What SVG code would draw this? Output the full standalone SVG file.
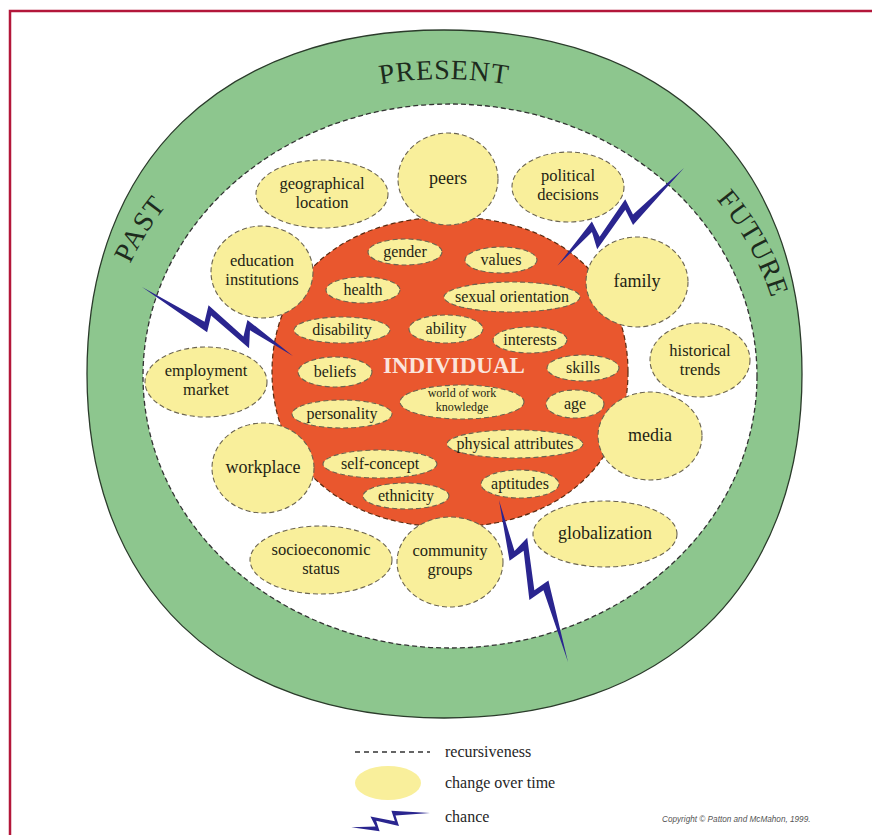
<svg xmlns="http://www.w3.org/2000/svg" xmlns:xlink="http://www.w3.org/1999/xlink" width="872" height="835" viewBox="0 0 872 835">
  <style>
    .frame { fill: none; stroke: #b3173a; stroke-width: 2.5; }
    .ring { fill: #8dc68e; stroke: #2b3b2b; stroke-width: 1.3; }
    .field { fill: #ffffff; stroke: #333333; stroke-width: 1.3; stroke-dasharray: 5 3; }
    .core { fill: #e9572e; stroke: #5a2a10; stroke-width: 1.2; stroke-dasharray: 5 3; }
    .inf { fill: #f9ef9b; stroke: #6b6450; stroke-width: 1.1; stroke-dasharray: 5 3; }
    .lbl { font-family: "Liberation Serif", "Times New Roman", serif; font-size: 18px; fill: #1f1f14; text-anchor: middle; }
    .two { font-size: 16.5px; }
    .sm { font-size: 16px; }
    .xs { font-size: 12px; }
    .era { font-family: "Liberation Serif", "Times New Roman", serif; font-size: 28px; fill: #1d2b1d; letter-spacing: 1px; text-anchor: middle; }
    .bolt { fill: #2a258f; }
    .legend { font-family: "Liberation Serif", "Times New Roman", serif; font-size: 16px; fill: #262626; }
    .copy { font-family: "Liberation Sans", Arial, sans-serif; font-size: 8.2px; font-style: italic; fill: #555555; }
  </style>
  <defs>
    <!-- lightning bolt drawn from thin tail (0,0) to point (100,0) -->
    <path id="bolt" d="M0,0 L47,10 L45,-2 L74,8 L70,-4 L100,0 L66,-10 L68,2 L41,-8 L43,4 Z"/>
    <!-- baseline arc for the time labels -->
    <path id="timeArc" d="M104,379 A340,300 0 0 1 784,379"/>
  </defs>

  <path class="frame" d="M10,835 V11 H872"/>

  <!-- time ring -->
  <g id="time-ring">
    <path class="ring" d="M802,374 C802,587 666,718 444,718 C222,718 87,587 87,374 C87,161 222,30 444,30 C666,30 802,161 802,374Z"/>
    <ellipse class="field" cx="450" cy="376" rx="307" ry="272"/>
    <text class="era"><textPath xlink:href="#timeArc" startOffset="15.3%">PAST</textPath></text>
    <text class="era"><textPath xlink:href="#timeArc" startOffset="50%">PRESENT</textPath></text>
    <text class="era"><textPath xlink:href="#timeArc" startOffset="86.2%">FUTURE</textPath></text>
  </g>

  <!-- individual system -->
  <g id="individual">
    <path class="core" d="M628,372 C628,465 556.8,527 450,527 C343.2,527 272,465 272,372 C272,279 343.2,217 450,217 C556.8,217 628,279 628,372Z"/>
    <text class="lbl" x="454" y="373" style="font-size:23px;font-weight:bold;fill:#fbe4dc">INDIVIDUAL</text>
  </g>

  <!-- contextual influences -->
  <g id="geographical-location"><ellipse class="inf" cx="322" cy="194" rx="66" ry="34"/><text class="lbl two" x="322" y="189">geographical<tspan x="322" dy="19">location</tspan></text></g>
  <g id="peers"><ellipse class="inf" cx="448" cy="179" rx="50" ry="46"/><text class="lbl" x="448" y="184">peers</text></g>
  <g id="political-decisions"><ellipse class="inf" cx="568" cy="187" rx="56" ry="35"/><text class="lbl two" x="568" y="181">political<tspan x="568" dy="19">decisions</tspan></text></g>
  <g id="education-institutions"><ellipse class="inf" cx="262" cy="272" rx="51" ry="46"/><text class="lbl two" x="262" y="266">education<tspan x="262" dy="19">institutions</tspan></text></g>
  <g id="family"><ellipse class="inf" cx="637" cy="282" rx="51" ry="45"/><text class="lbl" x="637" y="287">family</text></g>
  <g id="historical-trends"><ellipse class="inf" cx="700" cy="360" rx="50" ry="37"/><text class="lbl two" x="700" y="356">historical<tspan x="700" dy="19">trends</tspan></text></g>
  <g id="employment-market"><ellipse class="inf" cx="206" cy="382" rx="61" ry="35"/><text class="lbl two" x="206" y="376">employment<tspan x="206" dy="19">market</tspan></text></g>
  <g id="media"><ellipse class="inf" cx="650" cy="436" rx="52" ry="44"/><text class="lbl" x="650" y="441">media</text></g>
  <g id="workplace"><ellipse class="inf" cx="263" cy="468" rx="51" ry="45"/><text class="lbl" x="263" y="473">workplace</text></g>
  <g id="globalization"><ellipse class="inf" cx="605" cy="534" rx="72" ry="33"/><text class="lbl" x="605" y="539">globalization</text></g>
  <g id="socioeconomic-status"><ellipse class="inf" cx="321" cy="560" rx="71" ry="34"/><text class="lbl two" x="321" y="555">socioeconomic<tspan x="321" dy="19">status</tspan></text></g>
  <g id="community-groups"><ellipse class="inf" cx="450" cy="562" rx="53" ry="45"/><text class="lbl two" x="450" y="556">community<tspan x="450" dy="19">groups</tspan></text></g>

  <!-- intrapersonal influences -->
  <g id="gender"><ellipse class="inf" cx="405" cy="252" rx="37" ry="13"/><text class="lbl sm" x="405" y="257">gender</text></g>
  <g id="values"><ellipse class="inf" cx="501" cy="260" rx="36" ry="13"/><text class="lbl sm" x="501" y="265">values</text></g>
  <g id="health"><ellipse class="inf" cx="363" cy="290" rx="37" ry="13"/><text class="lbl sm" x="363" y="295">health</text></g>
  <g id="sexual-orientation"><ellipse class="inf" cx="512" cy="297" rx="68" ry="15"/><text class="lbl sm" x="512" y="302">sexual orientation</text></g>
  <g id="disability"><ellipse class="inf" cx="342" cy="330" rx="48" ry="13"/><text class="lbl sm" x="342" y="335">disability</text></g>
  <g id="ability"><ellipse class="inf" cx="446" cy="329" rx="37" ry="14"/><text class="lbl sm" x="446" y="334">ability</text></g>
  <g id="interests"><ellipse class="inf" cx="530" cy="340" rx="37" ry="13"/><text class="lbl sm" x="530" y="345">interests</text></g>
  <g id="beliefs"><ellipse class="inf" cx="335" cy="372" rx="37" ry="15"/><text class="lbl sm" x="335" y="377">beliefs</text></g>
  <g id="skills"><ellipse class="inf" cx="583" cy="368" rx="36" ry="13"/><text class="lbl sm" x="583" y="373">skills</text></g>
  <g id="world-of-work-knowledge"><ellipse class="inf" cx="462" cy="402" rx="62" ry="17"/><text class="lbl xs" x="462" y="397">world of work<tspan x="462" dy="14">knowledge</tspan></text></g>
  <g id="personality"><ellipse class="inf" cx="342" cy="414" rx="50" ry="14"/><text class="lbl sm" x="342" y="419">personality</text></g>
  <g id="age"><ellipse class="inf" cx="575" cy="404" rx="29" ry="14"/><text class="lbl sm" x="575" y="409">age</text></g>
  <g id="physical-attributes"><ellipse class="inf" cx="515" cy="444" rx="68" ry="14"/><text class="lbl sm" x="515" y="449">physical attributes</text></g>
  <g id="self-concept"><ellipse class="inf" cx="380" cy="464" rx="57" ry="14"/><text class="lbl sm" x="380" y="469">self-concept</text></g>
  <g id="ethnicity"><ellipse class="inf" cx="406" cy="496" rx="43" ry="13"/><text class="lbl sm" x="406" y="501">ethnicity</text></g>
  <g id="aptitudes"><ellipse class="inf" cx="520" cy="484" rx="39" ry="14"/><text class="lbl sm" x="520" y="489">aptitudes</text></g>

  <!-- chance events -->
  <g id="chance-bolts">
    <use class="bolt" xlink:href="#bolt" transform="translate(684,168) rotate(142.3) scale(1.6,-1.4)"/>
    <use class="bolt" xlink:href="#bolt" transform="translate(142,287) rotate(24.6) scale(1.66,1.4)"/>
    <use class="bolt" xlink:href="#bolt" transform="translate(568,662) rotate(-113.1) scale(1.76,1.4)"/>
  </g>

  <!-- key -->
  <g id="legend">
    <line x1="355" y1="752" x2="430" y2="752" stroke="#333" stroke-width="1.5" stroke-dasharray="5 4"/>
    <text class="legend" x="445" y="757">recursiveness</text>
    <ellipse cx="388" cy="783" rx="33" ry="17" fill="#f9ef9b"/>
    <text class="legend" x="445" y="788">change over time</text>
    <use class="bolt" xlink:href="#bolt" transform="translate(430,813) rotate(169.8) scale(0.8,0.9)"/>
    <text class="legend" x="445" y="822">chance</text>
    <text class="copy" x="662" y="822">Copyright © Patton and McMahon, 1999.</text>
  </g>
</svg>
